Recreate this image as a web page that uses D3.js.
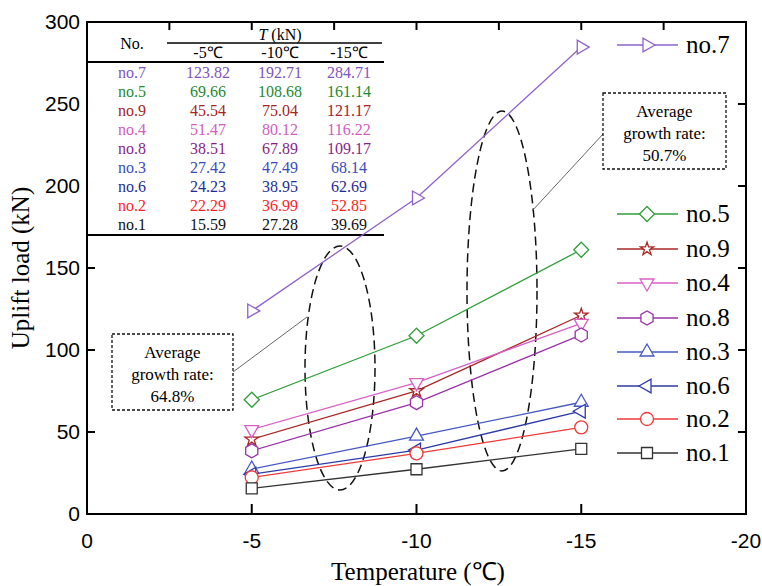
<!DOCTYPE html>
<html><head><meta charset="utf-8">
<script src="https://cdn.jsdelivr.net/npm/d3@7"></script>
<style>body{margin:0;background:#fff}svg{display:block}</style>
</head><body>
<svg id="c" width="762" height="586"></svg>
<script>
const temps = [-5, -10, -15];
const tempLabels = ["-5\u2103", "-10\u2103", "-15\u2103"];
const seriesNames = ["no.7","no.5","no.9","no.4","no.8","no.3","no.6","no.2","no.1"];
const no7 = [123.82, 192.71, 284.71];
const no5 = [69.66, 108.68, 161.14];
const no9 = [45.54, 75.04, 121.17];
const no4 = [51.47, 80.12, 116.22];
const no8 = [38.51, 67.89, 109.17];
const no3 = [27.42, 47.49, 68.14];
const no6 = [24.23, 38.95, 62.69];
const no2 = [22.29, 36.99, 52.85];
const no1 = [15.59, 27.28, 39.69];
const seriesValues = [no7, no5, no9, no4, no8, no3, no6, no2, no1];
const lineColors = ["#8f63c9","#2f9e3a","#a82828","#d861c8","#9a33a8","#4658c4","#2c3aa8","#f03a3a","#333333"];
const textColors = ["#7d55c0","#1f8a2e","#a52424","#d45cbf","#8a1f8a","#3a4cbc","#1f2d99","#ff1f1f","#111111"];
const shapes = ["triRight","diamond","star","triDown","hexagon","triUp","triLeft","circle","square"];
const xTicks = [0, -5, -10, -15, -20];
const xTopTicks = [-2.5, -5, -7.5, -10, -12.5, -15, -17.5];
const yTicks = [0, 50, 100, 150, 200, 250, 300];
const boxLeftText = ["Average", "growth rate:", "64.8%"];
const boxRightText = ["Average", "growth rate:", "50.7%"];

const svg = d3.select("#c");
const x = d3.scaleLinear().domain([0, -20]).range([87, 746]);
const y = d3.scaleLinear().domain([0, 300]).range([514, 22]);

function shapePath(s) {
  const R = 8;
  const h = Math.sqrt(3) / 2;
  const poly = pts => "M" + pts.map(p => p.join(",")).join("L") + "Z";
  switch (s) {
    case "triRight": return poly([[R,0],[-R/2,-R*h],[-R/2,R*h]]);
    case "triLeft": return poly([[-R,0],[R/2,-R*h],[R/2,R*h]]);
    case "triUp": return poly([[0,-R],[R*h,R/2],[-R*h,R/2]]);
    case "triDown": return poly([[0,R],[R*h,-R/2],[-R*h,-R/2]]);
    case "diamond": return poly([[0,-7.5],[7.5,0],[0,7.5],[-7.5,0]]);
    case "square": return poly([[-5.5,-5.5],[5.5,-5.5],[5.5,5.5],[-5.5,5.5]]);
    case "hexagon": { const r = 7; return poly(d3.range(6).map(i => [r*Math.cos(Math.PI/2 + i*Math.PI/3), r*Math.sin(Math.PI/2 + i*Math.PI/3)])); }
    case "circle": return d3.symbol(d3.symbolCircle, Math.PI*6.5*6.5)();
    case "star": return d3.symbol(d3.symbolStar, 55)();
  }
}

// table background
const tbl = svg.append("g");
tbl.append("rect").attr("x", 88).attr("y", 23).attr("width", 298).attr("height", 212).attr("fill", "#fff");

// top ticks
svg.append("g").selectAll("line").data(xTopTicks).join("line")
  .attr("x1", d => x(d)).attr("x2", d => x(d)).attr("y1", y(300)).attr("y2", y(300) + 8)
  .attr("stroke", "#000").attr("stroke-width", 2);
// bottom ticks
svg.append("g").selectAll("line").data(xTicks.slice(1, -1)).join("line")
  .attr("x1", d => x(d)).attr("x2", d => x(d)).attr("y1", y(0)).attr("y2", y(0) - 10)
  .attr("stroke", "#000").attr("stroke-width", 2);
// left / right ticks
const innerY = yTicks.slice(1, -1);
svg.append("g").selectAll("line").data(innerY.filter(d => y(d) > 236)).join("line")
  .attr("x1", x(0)).attr("x2", x(0) + 8).attr("y1", d => y(d)).attr("y2", d => y(d))
  .attr("stroke", "#000").attr("stroke-width", 2);
svg.append("g").selectAll("line").data(innerY).join("line")
  .attr("x1", x(-20)).attr("x2", x(-20) - 8).attr("y1", d => y(d)).attr("y2", d => y(d))
  .attr("stroke", "#000").attr("stroke-width", 2);
// frame
svg.append("rect").attr("x", x(0)).attr("y", y(300)).attr("width", x(-20) - x(0)).attr("height", y(0) - y(300))
  .attr("fill", "none").attr("stroke", "#000").attr("stroke-width", 2);

// tick labels
svg.append("g").selectAll("text").data(xTicks).join("text")
  .attr("x", d => x(d)).attr("y", 548).attr("text-anchor", "middle")
  .attr("font-family", "Liberation Sans, Arial, sans-serif").attr("font-size", 21)
  .text(d => d === 0 ? "0" : d3.format("d")(d).replace("\u2212", "-"));
svg.append("g").selectAll("text").data(yTicks).join("text")
  .attr("x", 80).attr("y", d => y(d) + 7).attr("text-anchor", "end")
  .attr("font-family", "Liberation Sans, Arial, sans-serif").attr("font-size", 21)
  .text(d => d);

// axis titles
svg.append("text").attr("x", 418).attr("y", 580).attr("text-anchor", "middle")
  .attr("font-family", "Liberation Serif, Times New Roman, serif").attr("font-size", 25)
  .text("Temperature (\u2103)");
svg.append("text").attr("transform", "translate(29,268) rotate(-90)").attr("text-anchor", "middle")
  .attr("font-family", "Liberation Serif, Times New Roman, serif").attr("font-size", 25)
  .text("Uplift load (kN)");

// table content
const serif = "Liberation Serif, Times New Roman, serif";
const colX = [132, 208, 280, 349];
tbl.append("text").attr("x", 280).attr("y", 40).attr("text-anchor", "middle").attr("font-family", serif).attr("font-size", 16)
  .html('<tspan font-style="italic">T</tspan> (kN)');
tbl.append("line").attr("x1", 167).attr("x2", 382).attr("y1", 43).attr("y2", 43).attr("stroke", "#000").attr("stroke-width", 1.3);
tbl.append("text").attr("x", colX[0]).attr("y", 49).attr("text-anchor", "middle").attr("font-family", serif).attr("font-size", 16).text("No.");
tbl.selectAll("text.hd").data(tempLabels).join("text").attr("class", "hd")
  .attr("x", (d, i) => colX[i + 1]).attr("y", 58).attr("text-anchor", "middle").attr("font-family", serif).attr("font-size", 16).text(d => d);
tbl.append("line").attr("x1", 88).attr("x2", 384).attr("y1", 62).attr("y2", 62).attr("stroke", "#000").attr("stroke-width", 2);
seriesNames.forEach((nm, i) => {
  const ry = 78 + i * 19;
  const row = [nm].concat(seriesValues[i].map(v => v.toFixed(2)));
  tbl.selectAll("text.r" + i).data(row).join("text").attr("class", "r" + i)
    .attr("x", (d, j) => colX[j]).attr("y", ry).attr("text-anchor", "middle")
    .attr("font-family", serif).attr("font-size", 16).attr("fill", textColors[i]).text(d => d);
});
tbl.append("line").attr("x1", 88).attr("x2", 384).attr("y1", 235).attr("y2", 235).attr("stroke", "#000").attr("stroke-width", 2);

// ellipses
const ell = svg.append("g").attr("fill", "none").attr("stroke", "#111").attr("stroke-width", 1.5).attr("stroke-dasharray", "9,5");
ell.append("ellipse").attr("cx", 340).attr("cy", 368).attr("rx", 35).attr("ry", 122);
ell.append("ellipse").attr("cx", 502).attr("cy", 291).attr("rx", 35).attr("ry", 180);

// leader lines
svg.append("line").attr("x1", 233).attr("y1", 372).attr("x2", 307).attr("y2", 317).attr("stroke", "#666").attr("stroke-width", 1);
svg.append("line").attr("x1", 604).attr("y1", 133).attr("x2", 532).attr("y2", 211).attr("stroke", "#666").attr("stroke-width", 1);

function box(bx, by, bw, bh, lines) {
  const g = svg.append("g");
  g.append("rect").attr("x", bx).attr("y", by).attr("width", bw).attr("height", bh)
    .attr("fill", "#fff").attr("stroke", "#111").attr("stroke-width", 1.3).attr("stroke-dasharray", "3,2");
  g.selectAll("text").data(lines).join("text")
    .attr("x", bx + bw / 2).attr("y", (d, i) => by + 24 + i * 22).attr("text-anchor", "middle")
    .attr("font-family", serif).attr("font-size", 17).text(d => d);
}
box(112, 334, 121, 76, boxLeftText);
box(603, 93, 123, 76, boxRightText);

// series
const line = d3.line().x((d, i) => x(temps[i])).y(d => y(d));
seriesValues.forEach((vals, i) => {
  const g = svg.append("g");
  g.append("path").attr("d", line(vals)).attr("fill", "none").attr("stroke", lineColors[i]).attr("stroke-width", 1.3);
  g.selectAll("path.m").data(vals).join("path").attr("class", "m")
    .attr("transform", (d, k) => `translate(${x(temps[k])},${y(d)})`)
    .attr("d", shapePath(shapes[i])).attr("fill", "#fff").attr("stroke", lineColors[i]).attr("stroke-width", 1.3);
});

// legend
const legY = [45, 214, 249, 283, 318, 352, 386, 419, 453];
seriesNames.forEach((nm, i) => {
  const g = svg.append("g").attr("transform", `translate(0,${legY[i]})`);
  g.append("line").attr("x1", 617).attr("x2", 678).attr("y1", 0).attr("y2", 0).attr("stroke", lineColors[i]).attr("stroke-width", 1.3);
  g.append("path").attr("transform", "translate(647,0)").attr("d", shapePath(shapes[i]))
    .attr("fill", "#fff").attr("stroke", lineColors[i]).attr("stroke-width", 1.3);
  g.append("text").attr("x", 686).attr("y", 8).attr("font-family", serif).attr("font-size", 25).text(nm);
});
</script>
</body></html>
